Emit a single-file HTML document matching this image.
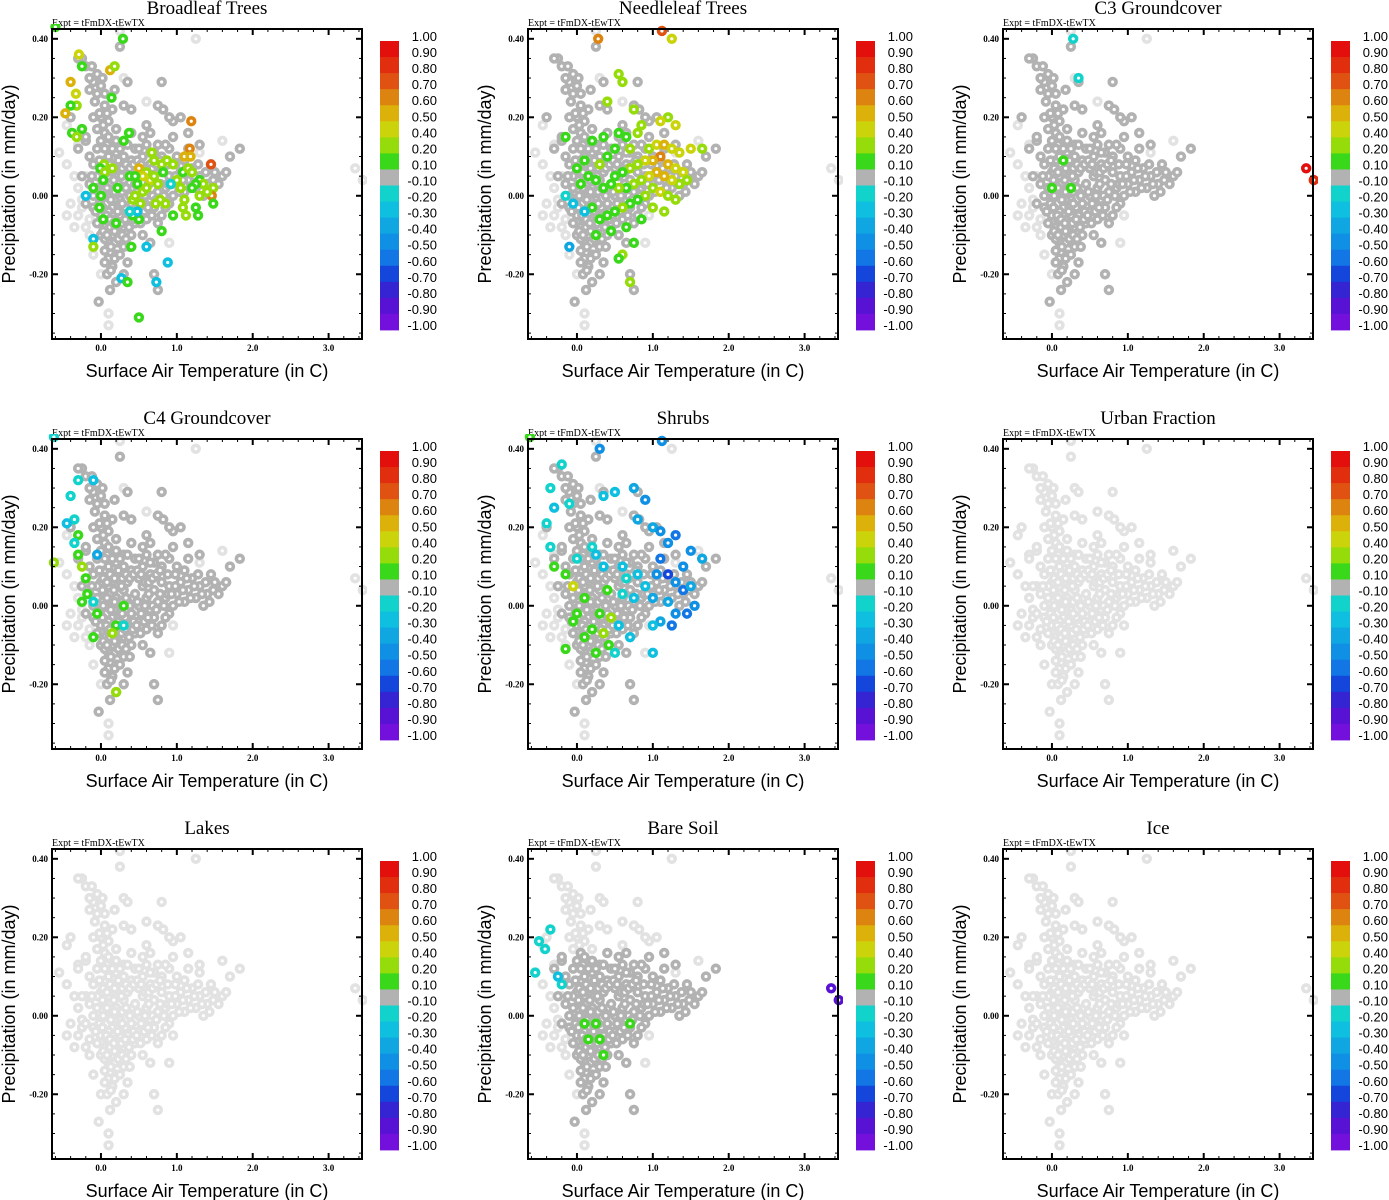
<!DOCTYPE html>
<html><head><meta charset="utf-8"><style>
html,body{margin:0;padding:0;background:#fff;}
svg{display:block;}
</style></head><body>
<svg id="chart" width="1389" height="1200" viewBox="0 0 1389 1200" xmlns="http://www.w3.org/2000/svg"></svg>
<script>
const panelTitles=["Broadleaf Trees","Needleleaf Trees","C3 Groundcover","C4 Groundcover","Shrubs","Urban Fraction","Lakes","Bare Soil","Ice"];
const xTicks=[0,1,2,3];
const xTickLabels=["0.0","1.0","2.0","3.0"];
const yTicks=[0.4,0.2,0,-0.2];
const yTickLabels=["0.40","0.20","0.00","-0.20"];
const cbarLabels=["1.00","0.90","0.80","0.70","0.60","0.50","0.40","0.20","0.10","-0.10","-0.20","-0.30","-0.40","-0.50","-0.60","-0.70","-0.80","-0.90","-1.00"];
const cbarBinLow=[0.9,0.8,0.7,0.6,0.5,0.4,0.2,0.1,-0.1,-0.2,-0.3,-0.4,-0.5,-0.6,-0.7,-0.8,-0.9,-1.0];
const cbarColors=["#e30f0c","#e02e0e","#df5212","#dd8410","#dcb10a","#cbd40a","#96dc0a","#3ad81a","#b2b2b2","#12d2cc","#0ebfe0","#10a6e2","#1090e4","#1276e4","#1446dc","#3424d2","#5812d4","#7410dc"];
const cloud=[[-0.05,0.02],[0.0,-0.01],[0.05,0.03],[0.1,0.0],[0.15,-0.03],[0.2,0.02],[0.25,-0.01],[0.3,0.04],[0.35,0.01],[0.4,-0.02],[0.45,0.03],[0.5,0.0],[0.55,0.05],[0.6,0.02],[0.65,-0.01],[0.7,0.04],[0.75,0.01],[0.8,0.06],[0.85,0.02],[0.9,0.05],[0.95,0.0],[1.0,0.03],[1.05,0.06],[1.1,0.01],[1.15,0.04],[1.2,0.07],[1.25,0.02],[1.3,0.05],[1.35,0.0],[1.4,0.03],[1.5,0.06],[1.6,0.05],[1.7,0.1],[1.83,0.12],
[0.0,-0.05],[0.05,-0.08],[0.1,-0.04],[0.15,-0.1],[0.2,-0.06],[0.25,-0.12],[0.3,-0.08],[0.35,-0.05],[0.4,-0.1],[0.1,-0.12],[0.05,-0.14],[0.2,-0.15],[0.3,-0.13],[0.15,-0.18],[0.0,-0.1],[-0.05,-0.07],[0.45,-0.07],[0.5,-0.04],[0.6,-0.06],[0.7,-0.03],[0.8,-0.05],[0.9,-0.02],[0.55,-0.1],[0.65,-0.12],[0.08,-0.2],[0.12,-0.24],[0.3,-0.2],[-0.03,-0.27],[0.2,-0.22],[0.35,-0.17],[0.7,-0.2],[0.75,-0.24],
[0.0,0.06],[0.05,0.09],[0.1,0.05],[0.15,0.08],[0.2,0.11],[0.25,0.07],[0.3,0.1],[0.35,0.06],[0.4,0.09],[0.45,0.12],[0.5,0.07],[0.55,0.1],[0.6,0.13],[0.65,0.08],[0.7,0.11],[0.8,0.1],[0.9,0.12],[1.0,0.1],[1.05,0.2],[0.95,0.19],[1.15,0.16],[0.85,0.13],[0.4,0.16],[0.3,0.13],[-0.05,0.12],[-0.1,0.08],[-0.15,0.03],[-0.2,-0.02],[-0.1,-0.03],[-0.15,0.1],[-0.2,0.14],[-0.3,0.12],[-0.25,0.05],
[0.05,0.16],[0.0,0.2],[0.05,0.23],[-0.05,0.26],[-0.1,0.29],[-0.15,0.3],[-0.05,0.31],[0.0,0.28],[0.1,0.19],[0.15,0.22],[0.1,0.15],[-0.1,0.2],[-0.05,0.17],[0.2,0.17],[0.05,0.26],[-0.2,0.33],[-0.25,0.35],[-0.3,0.35],[-0.15,0.27],[0.18,0.27],[0.3,0.23],[0.4,0.22],[0.25,0.38],[0.35,0.29],[0.8,0.29],[0.75,0.23],[0.82,0.22],[0.6,0.18],[0.65,0.16],[0.55,0.15],[-0.4,0.2],[-0.2,0.15],[0.9,0.2],
[1.3,0.13],[1.15,0.12],[1.45,0.08],[1.65,0.06],[0.95,0.15],
[0.07,0.0],[0.12,0.03],[0.18,-0.01],[0.22,0.05],[0.28,0.01],[0.32,-0.03],[0.02,0.04],[0.08,-0.06],[0.17,0.04],[0.27,0.05],[0.12,-0.08],[0.22,-0.09],[0.05,-0.11],[0.18,-0.12],[0.25,-0.05],[-0.02,0.09],[0.13,0.12],[0.08,0.13],
[-0.02,-0.02],[0.03,0.0],[0.08,0.02],[0.13,-0.01],[0.18,0.01],[0.23,-0.03],[0.28,-0.02],[0.33,0.02],[0.38,0.0],[0.43,-0.04],[0.48,0.01],[0.53,-0.02],[0.58,0.0],[0.63,0.03],[0.68,0.0],[0.73,-0.01],[0.78,0.03],[0.83,0.0],[0.88,0.03],[0.93,0.03],[0.98,0.05],[1.03,0.01],[1.08,0.04],[1.13,0.07],[1.18,0.02],[1.23,0.05],[1.28,0.08],[1.33,0.03],[1.38,0.06],[1.43,0.01],[1.48,0.04],[1.55,0.03],
[0.02,-0.03],[0.07,-0.05],[0.12,-0.06],[0.17,-0.07],[0.22,-0.04],[0.27,-0.07],[0.32,-0.06],[0.37,-0.08],[0.42,-0.06],[0.47,-0.05],[0.52,-0.07],[0.57,-0.04],[0.62,-0.03],[0.67,-0.05],[0.75,-0.07],[0.85,-0.03],[0.03,-0.09],[0.08,-0.1],[0.13,-0.13],[0.18,-0.09],[0.23,-0.11],[0.28,-0.1],[0.33,-0.11],[0.38,-0.13],[0.1,-0.16],[0.18,-0.16],[0.25,-0.15],[0.05,-0.17],[0.13,-0.19],
[0.03,0.07],[0.08,0.06],[0.12,0.08],[0.18,0.07],[0.23,0.09],[0.28,0.07],[0.33,0.08],[0.38,0.07],[0.43,0.08],[0.48,0.09],[0.53,0.08],[0.58,0.06],[0.63,0.06],[0.68,0.07],[0.73,0.08],[0.78,0.09],[0.88,0.08],[0.98,0.08],[1.1,0.09],[0.2,0.14],[0.15,0.12],[0.25,0.12],[0.35,0.13],[0.1,0.1],[-0.05,0.05],[-0.1,0.0],[-0.12,0.05],[-0.07,-0.04],[0.5,0.12],[0.65,0.11],[0.75,0.13],[0.0,0.14],[0.05,0.12],[-0.02,0.21],[0.08,0.21],[0.03,0.18],[-0.08,0.24],[0.02,0.3],[-0.12,0.33]];
const lightCloud=[[-0.55,0.11],[-0.45,0.18],[-0.3,0.13],[-0.35,0.05],[-0.4,-0.02],[-0.3,-0.05],[-0.2,-0.08],[0.1,-0.3],[0.1,-0.33],[-0.15,-0.1],[0.75,0.23],[1.6,0.14],[3.35,0.07],[3.45,0.04],[1.25,0.4],[0.6,0.24],[0.3,0.3],[0.9,-0.12],[0.7,-0.2],[1.3,0.11],[0.0,-0.2],[-0.1,-0.15],[0.25,0.42],[-0.25,-0.03],[-0.3,0.02],[-0.45,0.08],[0.95,-0.05],[-0.35,-0.08],[-0.25,-0.01],[-0.45,-0.05],[-0.15,-0.06],[-0.2,0.05]];
const broadleafPts=[[-0.6,0.43,0.1],[0.29,0.4,0.1],[-0.29,0.36,0.4],[-0.25,0.33,0.1],[0.12,0.32,0.5],[0.18,0.33,0.2],[-0.4,0.29,0.5],[-0.33,0.26,0.4],[-0.32,0.23,0.2],[-0.4,0.23,0.1],[-0.47,0.21,0.5],[0.14,0.25,0.1],[-0.25,0.17,0.1],[-0.38,0.16,0.1],[-0.32,0.15,0.2],[0.37,0.16,0.1],[0.3,0.14,0.1],[1.19,0.19,0.6],[1.17,0.12,0.6],[1.1,0.1,0.5],[1.18,0.1,0.5],[1.45,0.08,0.7],[0.67,0.11,0.2],[0.7,0.09,0.3],[0.8,0.08,0.2],[0.87,0.09,0.2],[0.95,0.08,0.2],[0.04,0.08,0.2],[-0.01,0.07,0.1],[0.05,0.06,0.2],[0.15,0.07,0.2],[0.5,0.07,0.5],[0.6,0.06,0.3],[0.55,0.05,0.4],[0.65,0.04,0.4],[0.7,0.05,0.3],[0.75,0.03,0.2],[0.82,0.06,0.1],[1.08,0.06,0.1],[1.15,0.07,0.2],[1.2,0.06,0.2],[1.0,0.04,0.2],[1.05,0.02,0.2],[1.3,0.04,0.1],[1.35,0.03,0.2],[1.25,0.03,0.1],[1.45,0.01,0.4],[1.48,0.02,0.3],[1.46,0.0,0.6],[1.48,-0.02,0.1],[1.4,0.01,0.2],[1.2,0.02,0.1],[1.3,0.0,0.2],[1.1,-0.01,0.3],[1.08,-0.03,0.2],[1.25,-0.03,0.1],[1.28,-0.05,0.1],[1.12,-0.05,0.3],[0.95,-0.05,0.1],[0.85,-0.02,0.2],[0.78,-0.01,0.2],[0.72,-0.02,0.2],[0.52,-0.02,0.2],[0.42,-0.01,0.2],[0.45,0.0,0.3],[0.48,0.03,0.1],[0.38,0.05,0.1],[0.45,0.05,0.1],[0.55,0.01,0.2],[0.6,0.02,0.2],[-0.1,0.02,0.1],[0.03,0.04,0.1],[0.0,0.0,0.1],[-0.2,0.0,-0.3],[-0.02,-0.03,0.1],[0.22,0.02,0.1],[0.03,-0.06,0.1],[0.2,-0.07,0.1],[0.42,-0.05,0.1],[0.5,-0.06,0.1],[0.8,-0.09,0.1],[0.4,-0.13,0.1],[0.6,-0.13,-0.3],[-0.1,-0.11,-0.3],[-0.1,-0.13,0.2],[0.88,-0.17,-0.3],[0.27,-0.21,-0.3],[0.35,-0.22,0.1],[0.73,-0.22,-0.3],[0.5,-0.31,0.1],[0.92,0.03,-0.2],[0.48,-0.04,-0.3],[0.38,-0.04,-0.2]];
const needleleafPts=[[0.28,0.4,0.6],[1.12,0.42,0.7],[1.25,0.4,0.4],[0.55,0.31,0.3],[0.6,0.29,0.2],[0.4,0.24,0.2],[0.75,0.22,0.2],[0.85,0.18,0.2],[1.2,0.2,0.3],[1.1,0.19,0.4],[1.3,0.18,0.4],[0.8,0.16,0.3],[0.65,0.15,0.1],[0.55,0.16,0.1],[0.35,0.15,0.1],[0.2,0.14,0.1],[-0.15,0.15,0.1],[0.5,0.12,0.1],[0.7,0.12,0.2],[0.95,0.12,0.3],[1.05,0.13,0.4],[1.15,0.13,0.5],[1.25,0.12,0.4],[1.35,0.11,0.4],[1.5,0.12,0.4],[1.65,0.12,0.3],[1.1,0.1,0.6],[1.0,0.09,0.5],[0.9,0.09,0.4],[0.8,0.08,0.3],[0.7,0.07,0.2],[0.6,0.06,0.1],[0.5,0.05,0.1],[1.2,0.08,0.5],[1.3,0.07,0.4],[1.4,0.06,0.4],[1.45,0.04,0.2],[1.35,0.03,0.3],[1.25,0.04,0.4],[1.15,0.05,0.5],[1.05,0.06,0.5],[0.95,0.05,0.4],[0.85,0.04,0.3],[0.75,0.03,0.2],[0.65,0.02,0.1],[0.55,0.02,0.2],[0.45,0.03,0.1],[0.35,0.02,0.1],[0.25,0.04,0.1],[0.15,0.05,0.1],[0.05,0.03,0.1],[0.0,0.07,0.1],[0.1,0.09,0.1],[0.3,0.08,0.2],[0.4,0.1,0.1],[1.0,0.02,0.3],[1.1,0.01,0.4],[1.2,0.0,0.3],[1.3,-0.01,0.2],[0.9,0.0,0.2],[0.8,-0.01,0.1],[0.7,-0.02,0.1],[0.6,-0.03,0.2],[0.5,-0.04,0.1],[0.4,-0.05,0.1],[0.3,-0.06,0.1],[0.2,-0.03,0.1],[1.0,-0.03,0.2],[1.15,-0.04,0.2],[0.85,-0.06,0.1],[0.65,-0.08,0.1],[0.45,-0.09,0.1],[0.75,-0.12,0.1],[0.25,-0.1,0.1],[0.6,-0.15,0.2],[0.7,-0.22,0.3],[-0.1,-0.13,-0.4],[-0.05,-0.02,-0.3],[-0.15,0.0,-0.2],[0.1,-0.04,-0.3],[0.55,-0.16,0.1]];
const c3Pts=[[0.28,0.4,-0.2],[0.35,0.3,-0.2],[0.15,0.09,0.1],[0.0,0.02,0.1],[0.25,0.02,0.1],[3.35,0.07,0.9],[3.45,0.04,0.8]];
const c4Pts=[[-0.62,0.43,-0.2],[-0.3,0.32,-0.2],[-0.4,0.28,-0.2],[-0.35,0.22,-0.2],[-0.45,0.21,-0.3],[-0.3,0.18,0.1],[-0.35,0.16,-0.2],[-0.3,0.13,0.1],[-0.25,0.1,0.2],[-0.62,0.11,0.3],[-0.2,0.07,0.1],[-0.18,0.03,0.1],[-0.1,0.01,-0.2],[-0.25,0.01,0.1],[-0.05,-0.02,0.1],[0.3,0.0,0.1],[0.2,-0.05,0.1],[0.15,-0.07,0.2],[-0.1,-0.08,0.1],[0.3,-0.05,-0.2],[0.2,-0.22,0.3],[-0.1,0.32,-0.3],[-0.05,0.13,-0.4]];
const shrubPts=[[-0.62,0.43,0.1],[0.3,0.4,-0.5],[1.12,0.42,-0.5],[-0.2,0.36,-0.2],[-0.35,0.3,-0.2],[-0.4,0.21,-0.2],[-0.3,0.25,-0.3],[-0.1,0.26,-0.2],[0.35,0.28,-0.3],[0.5,0.29,-0.3],[0.75,0.3,-0.4],[0.9,0.27,-0.5],[0.8,0.22,-0.4],[1.0,0.2,-0.4],[1.1,0.19,-0.5],[1.3,0.18,-0.6],[1.2,0.16,-0.5],[1.65,0.12,-0.4],[1.5,0.14,-0.5],[1.4,0.1,-0.5],[1.1,0.12,-0.6],[1.05,0.08,-0.5],[1.2,0.08,-0.7],[1.3,0.06,-0.5],[1.4,0.04,-0.6],[1.5,0.05,-0.4],[1.55,0.0,-0.5],[1.45,-0.02,-0.6],[1.3,-0.02,-0.5],[1.2,0.01,-0.4],[1.0,0.02,-0.4],[0.9,0.05,-0.3],[0.8,0.08,-0.3],[0.75,0.02,-0.3],[1.1,-0.04,-0.4],[1.0,-0.05,-0.3],[0.6,0.03,-0.2],[0.55,-0.05,-0.3],[1.0,-0.12,-0.3],[0.7,-0.08,-0.3],[-0.35,0.15,-0.2],[-0.3,0.1,0.1],[0.2,0.15,-0.2],[0.25,0.13,-0.3],[0.35,0.1,-0.3],[0.0,0.12,-0.2],[-0.15,0.08,0.1],[-0.05,0.05,0.4],[0.1,0.02,0.1],[0.0,-0.02,0.1],[-0.05,-0.04,0.1],[0.3,-0.02,0.1],[0.4,0.04,0.1],[0.45,-0.03,0.2],[0.2,-0.06,0.1],[0.1,-0.08,0.1],[0.42,-0.1,0.1],[-0.15,-0.11,0.1],[0.5,-0.12,-0.2],[0.35,-0.07,0.2],[0.25,-0.12,0.1],[0.6,0.1,-0.3],[0.65,0.07,-0.2],[1.25,-0.05,-0.6]];
const bareSoilPts=[[-0.55,0.11,-0.2],[-0.5,0.19,-0.2],[-0.42,0.17,-0.2],[-0.35,0.22,-0.2],[-0.2,0.08,-0.2],[-0.25,0.1,-0.3],[0.1,-0.02,0.1],[0.25,-0.02,0.1],[0.7,-0.02,0.1],[0.15,-0.06,0.1],[0.35,-0.1,0.1],[0.3,-0.06,0.1],[3.35,0.07,-0.9],[3.45,0.04,-0.9]];
const panelPts=[broadleafPts,needleleafPts,c3Pts,c4Pts,shrubPts,[],[],bareSoilPts,[]];
const panelActive=[true,true,true,true,true,false,false,true,false];
const panelGrayMaxY=[1,1,1,1,1,1,1,0.16,1];

const NS="http://www.w3.org/2000/svg";
const svg=document.getElementById('chart');
const PX0=52,PY0=29,PW=310,PH=310;
const XMIN=-0.645,XMAX=3.44,YMIN=-0.365,YMAX=0.425;
const MR=3.4,MW=3.6;
function mk(tag,attrs,parent){const e=document.createElementNS(NS,tag);for(const k in attrs)e.setAttribute(k,attrs[k]);(parent||svg).appendChild(e);return e;}
function colorFor(v){for(let i=0;i<cbarBinLow.length;i++){if(v>=cbarBinLow[i]-1e-9)return cbarColors[i];}return cbarColors[cbarColors.length-1];}

for(let p=0;p<9;p++){
  const ox=(p%3)===0?0:((p%3)===1?476:951);
  const oy=Math.floor(p/3)*410;
  const sx=x=>ox+PX0+(x-XMIN)/(XMAX-XMIN)*PW;
  const sy=y=>oy+PY0+(YMAX-y)/(YMAX-YMIN)*PH;
  const g=mk('g',{});
  
  
  const t=mk('text',{x:ox+207,y:oy+14,'text-anchor':'middle','font-family':'Liberation Serif, serif','font-size':'19'},g);
  t.textContent=panelTitles[p];
  
  
  const ex=mk('text',{x:ox+52,y:oy+26,'font-family':'Liberation Serif, serif','font-size':'10'},g);
  ex.textContent='Expt = tFmDX-tEwTX';
  
  
  const clip=mk('clipPath',{id:'clip'+p},g);
  mk('rect',{x:ox+PX0-5,y:oy+PY0-5,width:PW+10,height:PH+10},clip);
  const pts=mk('g',{'clip-path':'url(#clip'+p+')'},g);
  
  
  const allLight=lightCloud.concat(cloud);
  allLight.forEach(d=>{
    const c=mk('circle',{cx:sx(d[0]),cy:sy(d[1]),r:MR,fill:'#fff',stroke:'#e2e2e2','stroke-width':MW},pts);
    
    
  });
  if(panelActive[p]){
    cloud.filter(d=>d[1]<=panelGrayMaxY[p]).forEach(d=>{
      const c=mk('circle',{cx:sx(d[0]),cy:sy(d[1]),r:MR,fill:'#fff',stroke:'#b2b2b2','stroke-width':MW},pts);
      
      
    });
  }
  panelPts[p].forEach(d=>{
    const c=mk('circle',{cx:sx(d[0]),cy:sy(d[1]),r:MR,fill:'#fff',stroke:colorFor(d[2]),'stroke-width':MW},pts);
    
    
  });
  const frame=mk('rect',{x:ox+PX0,y:oy+PY0,width:PW,height:PH,fill:'none',stroke:'#000','stroke-width':2},g);
  
  
  for(let v=-0.6;v<=3.41;v+=0.2){const X=sx(v);mk('line',{x1:X,x2:X,y1:oy+PY0+PH,y2:oy+PY0+PH-3,stroke:'#000','stroke-width':1},g);mk('line',{x1:X,x2:X,y1:oy+PY0,y2:oy+PY0+3,stroke:'#000','stroke-width':1},g);}
  for(let v=-0.35;v<=0.41;v+=0.05){const Y=sy(v);mk('line',{x1:ox+PX0,x2:ox+PX0+3,y1:Y,y2:Y,stroke:'#000','stroke-width':1},g);mk('line',{x1:ox+PX0+PW,x2:ox+PX0+PW-3,y1:Y,y2:Y,stroke:'#000','stroke-width':1},g);}
  xTicks.forEach((v,i)=>{const X=sx(v);
    mk('line',{x1:X,x2:X,y1:oy+PY0+PH,y2:oy+PY0+PH-6,stroke:'#000','stroke-width':2},g);
    mk('line',{x1:X,x2:X,y1:oy+PY0,y2:oy+PY0+6,stroke:'#000','stroke-width':2},g);
    const l=mk('text',{x:X,y:oy+PY0+PH+12,'text-anchor':'middle','font-family':'Liberation Serif, serif','font-size':'9','font-weight':'bold'},g);
    l.textContent=xTickLabels[i];
    
    
  });
  yTicks.forEach((v,i)=>{const Y=sy(v);
    mk('line',{x1:ox+PX0,x2:ox+PX0+6,y1:Y,y2:Y,stroke:'#000','stroke-width':2},g);
    mk('line',{x1:ox+PX0+PW,x2:ox+PX0+PW-6,y1:Y,y2:Y,stroke:'#000','stroke-width':2},g);
    const l=mk('text',{x:ox+48,y:Y+3,'text-anchor':'end','font-family':'Liberation Serif, serif','font-size':'9','font-weight':'bold'},g);
    l.textContent=yTickLabels[i];
    
    
  });
  const xl=mk('text',{x:ox+207,y:oy+377,'text-anchor':'middle','font-family':'Liberation Sans, sans-serif','font-size':'18'},g);
  xl.textContent='Surface Air Temperature (in C)';
  
  
  const yl=mk('text',{x:0,y:0,'text-anchor':'middle','font-family':'Liberation Sans, sans-serif','font-size':'18',transform:'translate('+(ox+15)+','+(oy+184)+') rotate(-90)'},g);
  yl.textContent='Precipitation (in mm/day)';
  
  
  const cb=mk('g',{},g);
  
  
  const bh=289/cbarColors.length;
  cbarColors.forEach((c,i)=>{
    const r=mk('rect',{x:ox+380,y:oy+41+i*bh,width:19,height:bh+0.4,fill:c},cb);
    
    
  });
  cbarLabels.forEach((s,i)=>{
    const l=mk('text',{x:ox+437,y:oy+41+i*bh,'text-anchor':'end','font-family':'Liberation Sans, sans-serif','font-size':'13'},cb);
    l.textContent=s;
    
    
  });
}
</script>
</body></html>
